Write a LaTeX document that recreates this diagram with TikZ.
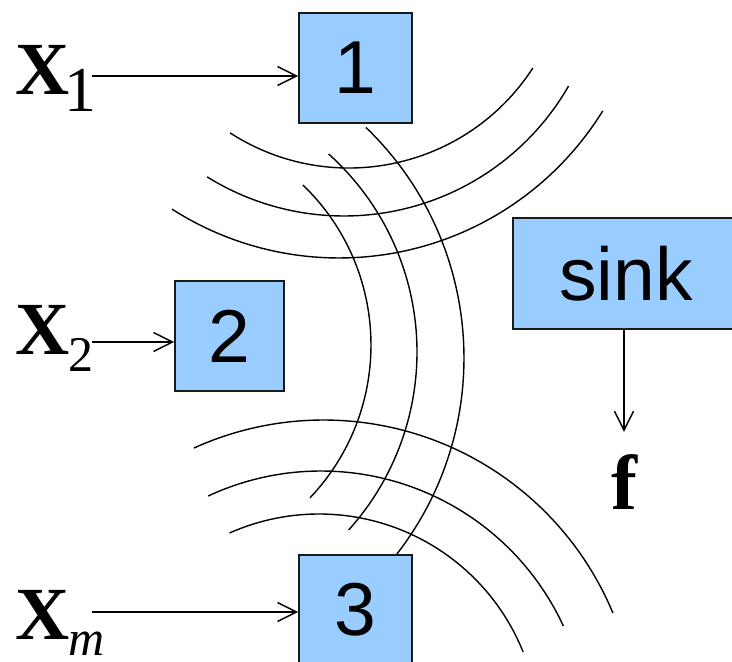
\documentclass[tikz,border=0pt]{standalone}
\usepackage{fontspec}
\setmainfont{Liberation Serif}
\newfontfamily\boxfont{Liberation Sans}
\usetikzlibrary{arrows.meta,positioning}
\definecolor{nodeblue}{HTML}{99CCFF}
\newcommand{\inlabel}[3]{{\fontsize{75}{75}\selectfont\bfseries X}\lower#3pt\hbox{\fontsize{#2}{#2}\selectfont #1}}

\begin{document}
\begin{tikzpicture}[
  x=1pt, y=1pt,
  sensor/.style={draw=black!90,line width=1.6pt,fill=nodeblue,inner sep=0pt,
                 minimum width=113pt,minimum height=110pt,
                 font={\boxfont\fontsize{75}{75}\selectfont}},
  inlab/.style={anchor=base west,inner sep=0pt},
  arr/.style={-{Straight Barb[length=19pt,width=19pt]},line width=1.5pt},
  wave/.style={line width=1.4pt},
]
\clip (0,0) rectangle (732,662);
% ----- waves (centre x / centre y / radius / start / end)
\foreach \cx/\cy/\r/\a/\b in {349/713/219/237.1/327.1, 344/705/259/238.1/330.1, 339/714/310/237.4/328.3,
    149/317/222/-43.5/46.1, 151/310/266/-42.0/48.1, 144/304/320/-37.8/46.1,
    323.5/-71.5/313.5/22.6/114.4, 321/-76/267/24.8/115.0, 319/-72/220/21.9/114.0}
  \draw[wave] (\cx,\cy) ++(\a:\r) arc[start angle=\a,end angle=\b,radius=\r];
% ----- sensors
\node[sensor] (n1) at (355.5,594) {1};
\node[sensor,minimum width=109pt] (n2) at (229.5,326) {2};
\node[sensor] (n3) at (355.5,52) {3};
\node[sensor,minimum width=226pt,minimum height=111pt] (sink) at (626,388.5) {sink};
% ----- inputs
\node[inlab] (x1) at (15,567) {\inlabel{\kern-5pt 1}{64}{17}};
\node[inlab] (x2) at (15,307) {\inlabel{\kern-1pt 2}{50}{17}};
\node[inlab] (xm) at (15,22) {\inlabel{\kern-1pt\itshape m}{50}{16}};
\coordinate (t1) at (92,586);
\coordinate (t2) at (92,320);
\coordinate (tm) at (92,50);
\draw[arr] (t1) -- (t1 -| n1.west);
\draw[arr] (t2) -- (t2 -| n2.west);
\draw[arr] (tm) -- (tm -| n3.west);
% ----- output
\node[inner sep=0pt,anchor=base,font={\fontsize{78}{78}\selectfont\bfseries}] (f) at (624,152) {f};
\draw[arr] (f |- sink.south) -- ([yshift=23pt]f.north);
\end{tikzpicture}
\end{document}
